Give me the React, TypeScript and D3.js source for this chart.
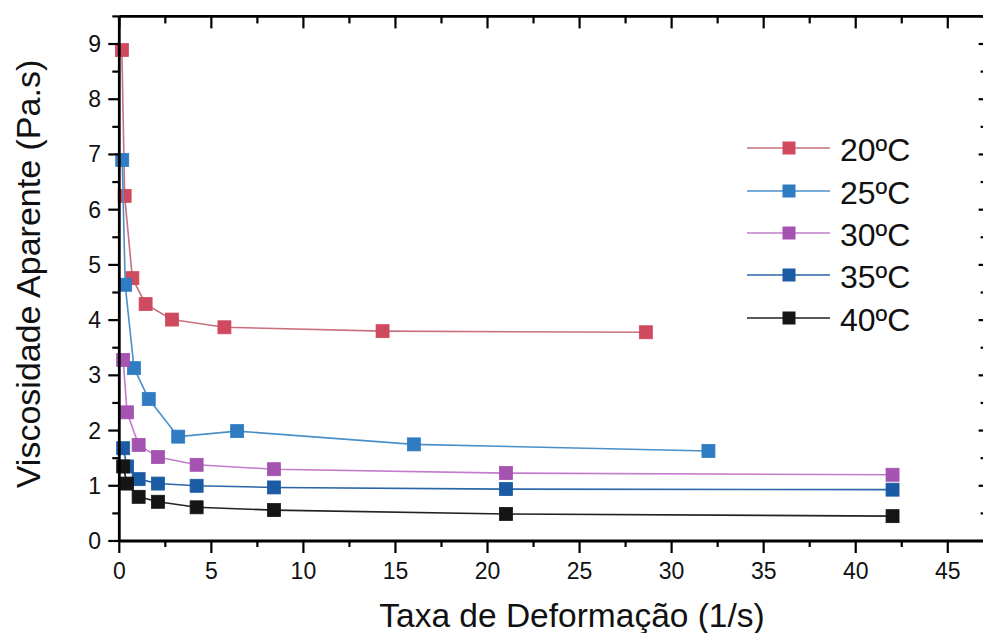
import React from "react";
import * as d3 from "d3";

const seriesNames = ["20ºC", "25ºC", "30ºC", "35ºC", "40ºC"];
const x20 = [0.14, 0.29, 0.71, 1.43, 2.86, 5.71, 14.3, 28.6];
const y20 = [8.89, 6.25, 4.76, 4.29, 4.01, 3.87, 3.80, 3.78];
const x25 = [0.16, 0.32, 0.8, 1.6, 3.2, 6.4, 16.0, 32.0];
const y25 = [6.90, 4.64, 3.13, 2.57, 1.89, 1.99, 1.75, 1.63];
const x30 = [0.21, 0.42, 1.05, 2.1, 4.2, 8.4, 21.0, 42.0];
const y30 = [3.28, 2.33, 1.74, 1.52, 1.38, 1.30, 1.23, 1.20];
const x35 = [0.21, 0.42, 1.05, 2.1, 4.2, 8.4, 21.0, 42.0];
const y35 = [1.68, 1.35, 1.12, 1.04, 1.00, 0.97, 0.94, 0.93];
const x40 = [0.21, 0.42, 1.05, 2.1, 4.2, 8.4, 21.0, 42.0];
const y40 = [1.35, 1.04, 0.80, 0.71, 0.61, 0.56, 0.49, 0.45];

const xTicks = [0, 5, 10, 15, 20, 25, 30, 35, 40, 45];
const yTicks = [0, 1, 2, 3, 4, 5, 6, 7, 8, 9];

const markerColors = ["#cf4a5e", "#2f7cc2", "#a453b0", "#1a5ba3", "#151515"];
const lineColors = ["#c9707e", "#4b8fc9", "#c27ccb", "#2a66a8", "#222222"];

const xs = [x20, x25, x30, x35, x40];
const ys = [y20, y25, y30, y35, y40];

export default function App() {
  const W = 983, H = 633;
  const x = d3.scaleLinear().domain([0, 47]).range([119.3, 984.6]);
  const y = d3.scaleLinear().domain([0, 9.5]).range([541, 16.4]);
  const [x0, x1] = x.range();
  const [yb, yt] = y.range();
  const line = d3.line<[number, number]>().x(d => x(d[0])).y(d => y(d[1]));
  const font = "'Liberation Sans', Arial, Helvetica, sans-serif";

  const xMinor = d3.range(2.5, 47, 5);
  const yMinor = d3.range(0.5, 9.6, 1);
  const ms = 13;

  const legendRows = [148, 191, 233, 275, 318];

  return (
    <svg width={W} height={H} style={{ position: "absolute", left: 0, top: 0, background: "#fff", fontFamily: font }}>
      <rect x={0} y={0} width={W} height={H} fill="#fff" />
      {xs.map((xv, i) => {
        const pts: [number, number][] = xv.map((v, j) => [v, ys[i][j]]);
        return (
          <g key={i}>
            <path d={line(pts) || ""} fill="none" stroke={lineColors[i]} strokeWidth={1.6} />
            {pts.map((p, j) => (
              <rect key={j} x={x(p[0]) - ms / 2} y={y(p[1]) - ms / 2} width={ms} height={ms}
                fill={markerColors[i]} stroke={markerColors[i]} strokeWidth={0.8} />
            ))}
          </g>
        );
      })}
      <g stroke="#000" strokeWidth={2.8} fill="none">
        <line x1={x0} y1={yb} x2={x1} y2={yb} />
        <line x1={x0} y1={yt} x2={x1} y2={yt} />
        <line x1={x0} y1={yt} x2={x0} y2={yb} />
        <line x1={x1} y1={yt} x2={x1} y2={yb} />
      </g>
      <g stroke="#000" strokeWidth={2.2}>
        {xTicks.map(t => (
          <g key={"xt" + t}>
            <line x1={x(t)} x2={x(t)} y1={yb} y2={yb + 12} />
            <line x1={x(t)} x2={x(t)} y1={yt} y2={yt + 12} />
          </g>
        ))}
        {xMinor.map(t => (
          <g key={"xm" + t}>
            <line x1={x(t)} x2={x(t)} y1={yb} y2={yb + 6} />
            <line x1={x(t)} x2={x(t)} y1={yt} y2={yt + 7} />
          </g>
        ))}
        {yTicks.map(t => (
          <g key={"yt" + t}>
            <line x1={x0 - 11} x2={x0} y1={y(t)} y2={y(t)} />
            <line x1={x1 - 6} x2={x1} y1={y(t)} y2={y(t)} />
          </g>
        ))}
        {yMinor.map(t => (
          <g key={"ym" + t}>
            <line x1={x0 - 7} x2={x0} y1={y(t)} y2={y(t)} />
            <line x1={x1 - 4} x2={x1} y1={y(t)} y2={y(t)} />
          </g>
        ))}
      </g>
      <g fontSize={23} fill="#111" fontFamily={font}>
        {xTicks.map(t => (
          <text key={"xl" + t} x={x(t)} y={579} textAnchor="middle">{t}</text>
        ))}
        {yTicks.map(t => (
          <text key={"yl" + t} x={101} y={y(t) + 8} textAnchor="end">{t}</text>
        ))}
      </g>
      <text x={572} y={627} textAnchor="middle" fontSize={33.5} fill="#111" fontFamily={font}>Taxa de Deformação (1/s)</text>
      <text transform={`translate(40,274) rotate(-90)`} textAnchor="middle" fontSize={34} fill="#111" fontFamily={font}>Viscosidade Aparente (Pa.s)</text>
      {seriesNames.map((n, i) => (
        <g key={n}>
          <line x1={747} x2={830} y1={legendRows[i]} y2={legendRows[i]} stroke={lineColors[i]} strokeWidth={1.6} />
          <rect x={789 - 6.5} y={legendRows[i] - 6.5} width={13} height={13} fill={markerColors[i]} />
          <text x={840} y={legendRows[i] + 13} fontSize={32} fill="#111" fontFamily={font}>{n}</text>
        </g>
      ))}
    </svg>
  );
}
